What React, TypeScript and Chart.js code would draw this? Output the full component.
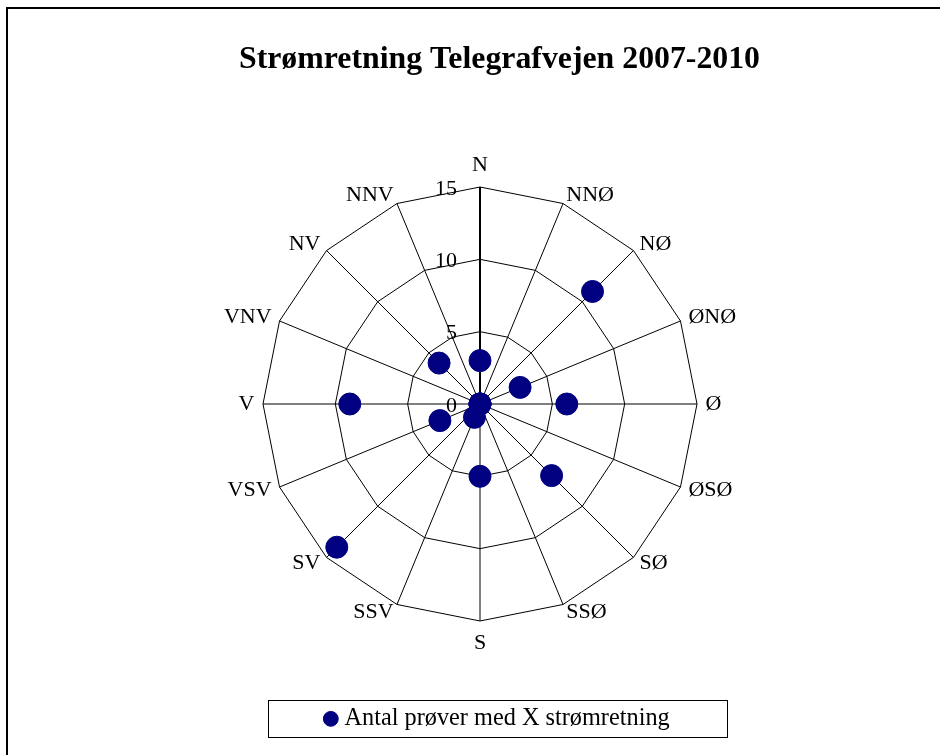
import React, { useEffect, useRef } from 'react';
import { Chart, registerables } from 'chart.js';

Chart.register(...registerables);

const chartTitle = 'Strømretning Telegrafvejen 2007-2010';
const seriesLabel = 'Antal prøver med X strømretning';
const directions = ['N', 'NNØ', 'NØ', 'ØNØ', 'Ø', 'ØSØ', 'SØ', 'SSØ', 'S', 'SSV', 'SV', 'VSV', 'V', 'VNV', 'NV', 'NNV'];
const counts = [3, 0, 11, 3, 6, 0, 7, 0, 5, 1, 14, 3, 9, 0, 4, 0];
const axisMin = 0;
const axisMax = 15;
const axisStep = 5;

const FONT = '"Liberation Serif", "Times New Roman", Times, serif';
const NAVY = '#000080';
const LABEL_SIZE = 22;

const radarDecor = {
  id: 'radarDecor',
  beforeDatasetsDraw(chart: any) {
    const s = chart.scales.r;
    const ctx = chart.ctx;
    ctx.save();
    ctx.fillStyle = '#000';
    ctx.font = `${LABEL_SIZE}px ${FONT}`;
    // value ticks, left of the north axis
    ctx.textAlign = 'right';
    ctx.textBaseline = 'middle';
    s.ticks.forEach((t: any) => {
      const d = s.getDistanceFromCenterForValue(t.value);
      ctx.fillText(String(t.value), s.xCenter - 23, s.yCenter - d + 2);
    });
    // direction labels
    const lh = LABEL_SIZE * 1.2;
    const labels: string[] = chart.data.labels;
    labels.forEach((lab, i) => {
      const p = s.getPointPosition(i, s.drawingArea + 8.6);
      const deg = Math.round((s.getIndexAngle(i) * 180) / Math.PI) % 360;
      let y = p.y;
      let align = 'center';
      if (deg === 0) y -= lh / 2;
      else if (deg === 180) y += lh / 2;
      else align = deg < 180 ? 'left' : 'right';
      ctx.textAlign = align;
      ctx.fillText(lab, p.x, y);
    });
    ctx.restore();
  },
  afterDraw(chart: any) {
    const lg = chart.legend;
    if (!lg || !lg.legendHitBoxes || !lg.legendHitBoxes.length) return;
    const hb = lg.legendHitBoxes[0];
    const cx = (lg.left + lg.right) / 2;
    const cy = hb.top + hb.height / 2;
    const ctx = chart.ctx;
    ctx.save();
    ctx.strokeStyle = '#000';
    ctx.lineWidth = 1;
    ctx.strokeRect(Math.round(cx - 231.5) + 0.5, Math.round(cy - 19) + 0.5, 459, 37);
    ctx.restore();
  },
};

export default function App() {
  const canvasRef = useRef<HTMLCanvasElement | null>(null);

  useEffect(() => {
    if (!canvasRef.current) return;
    const chart = new Chart(canvasRef.current, {
      type: 'radar',
      data: {
        labels: directions,
        datasets: [
          {
            label: seriesLabel,
            data: counts,
            showLine: false,
            fill: false,
            borderWidth: 0,
            borderColor: 'rgba(0,0,0,0)',
            backgroundColor: NAVY,
            pointStyle: 'circle',
            pointRadius: 11,
            pointHoverRadius: 11,
            pointBorderWidth: 1,
            pointBackgroundColor: NAVY,
            pointBorderColor: NAVY,
          } as any,
        ],
      },
      options: {
        responsive: false,
        maintainAspectRatio: false,
        devicePixelRatio: 1,
        animation: false,
        events: [],
        layout: { padding: { bottom: 14 } },
        scales: {
          r: {
            min: axisMin,
            max: axisMax,
            ticks: { display: false, stepSize: axisStep },
            grid: { circular: false, color: '#000', lineWidth: 1 },
            angleLines: {
              display: true,
              color: '#000',
              lineWidth: (c: any) => (c.index === 0 ? 2 : 1),
            },
            pointLabels: { display: false },
          } as any,
        },
        plugins: {
          title: {
            display: true,
            text: chartTitle,
            color: '#000',
            font: { family: FONT, size: 31.8, weight: 'bold' },
            padding: { top: 31.5, bottom: 108.34 },
          },
          subtitle: {
            display: true,
            position: 'right',
            text: ' ',
            font: { size: 10 },
            padding: 13.5,
          },
          legend: {
            display: true,
            position: 'bottom',
            labels: {
              usePointStyle: true,
              pointStyle: 'circle',
              boxWidth: 3,
              boxHeight: 10.5,
              padding: 85.7,
              color: '#000',
              font: { family: FONT, size: 24.3 },
            },
          },
          tooltip: { enabled: false },
        },
      } as any,
      plugins: [radarDecor],
    });
    return () => chart.destroy();
  }, []);

  return (
    <div style={{ position: 'fixed', inset: 0, overflow: 'hidden', background: '#fff' }}>
      <div
        style={{
          position: 'absolute',
          left: 6,
          top: 7,
          width: 1000,
          height: 800,
          borderLeft: '2px solid #000',
          borderTop: '2px solid #000',
        }}
      >
        <canvas ref={canvasRef} width={983} height={746} style={{ display: 'block' }} />
      </div>
    </div>
  );
}
